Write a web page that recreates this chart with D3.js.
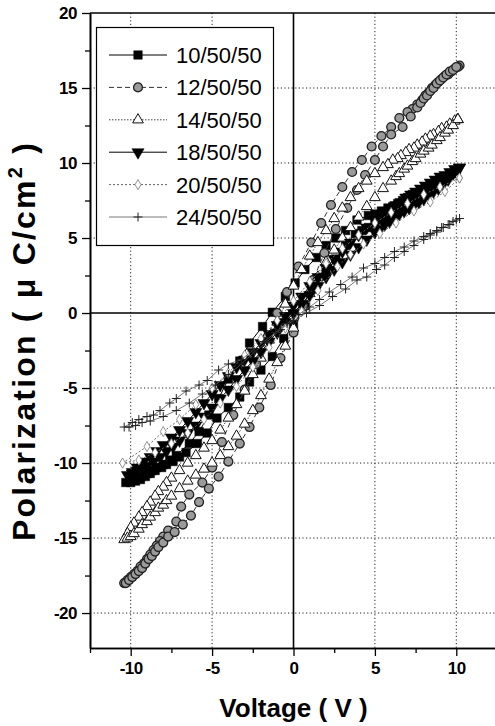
<!DOCTYPE html>
<html>
<head>
<meta charset="utf-8">
<script src="https://cdn.jsdelivr.net/npm/d3@7"></script>
<style>
  body { margin: 0; background: #fff; }
  svg { display: block; }
</style>
</head>
<body>
<div id="chart"></div>
<script>
// Legend labels, in drawing order.
const seriesNames = ['10/50/50', '12/50/50', '14/50/50', '18/50/50', '20/50/50', '24/50/50'];

// Each loop: [voltage (V), polarization (uC/cm2)], descending branch then ascending branch.
const loop10 = [
  [10.0, 9.5], [9.7, 9.3], [9.4, 9.1], [9.1, 8.9], [8.8, 8.7], [8.5, 8.5], [8.2, 8.4], [7.9, 8.2], [7.6, 8.0],
  [7.3, 7.9], [7.0, 7.7], [6.7, 7.5], [6.4, 7.3], [6.1, 7.1], [5.8, 7.0], [5.4, 6.8], [5.0, 6.6], [4.6, 6.5],
  [3.9, 6.2], [3.2, 5.5], [2.6, 5.0], [2.0, 4.5], [1.4, 3.7], [0.7, 2.9], [0.1, 2.0], [-0.5, 1.1], [-1.3, 0.05],
  [-1.9, -0.9], [-2.7, -2.0], [-3.3, -3.2], [-4.0, -4.4], [-4.6, -5.7], [-5.2, -6.8], [-5.8, -7.9], [-6.4, -8.7],
  [-7.2, -9.5], [-7.6, -9.8], [-8.0, -10.1], [-8.4, -10.3], [-8.7, -10.5], [-9.0, -10.7], [-9.4, -10.9],
  [-9.7, -11.0], [-10.0, -11.2], [-10.3, -11.3],
  [-10.0, -11.3], [-9.7, -11.2], [-9.4, -11.1], [-9.1, -10.9], [-8.8, -10.7], [-8.5, -10.5], [-8.1, -10.3],
  [-7.8, -10.1], [-7.4, -9.9], [-7.0, -9.6], [-6.6, -9.3], [-5.9, -8.7], [-5.3, -8.0], [-4.7, -7.0], [-4.0, -6.3],
  [-3.3, -5.6], [-2.7, -4.6], [-2.0, -3.8], [-1.3, -2.9], [-0.6, -1.7], [0.0, -0.8], [0.7, 0.5], [1.3, 1.6],
  [2.0, 2.7], [2.6, 3.6], [3.2, 4.5], [3.8, 5.3], [4.2, 5.5], [4.6, 5.7], [5.0, 6.0], [5.4, 6.2], [5.8, 6.5],
  [6.2, 6.8], [6.6, 7.1], [7.0, 7.4], [7.4, 7.7], [7.8, 8.0], [8.2, 8.3], [8.6, 8.6], [9.0, 8.9], [9.4, 9.1],
  [9.7, 9.3], [10.0, 9.5]
];
const loop12 = [
  [10.2, 16.5], [10.1, 16.4], [9.9, 16.3], [9.7, 16.1], [9.5, 15.9], [9.3, 15.8], [9.1, 15.6], [8.9, 15.4],
  [8.7, 15.2], [8.5, 15.0], [8.3, 14.7], [8.1, 14.5], [7.9, 14.2], [7.6, 13.9], [7.3, 13.6], [7.0, 13.4],
  [6.5, 13.0], [6.0, 12.4], [5.4, 11.8], [4.8, 11.1], [4.2, 10.2], [3.6, 9.4], [3.0, 8.4], [2.3, 7.2], [1.7, 6.0],
  [1.1, 4.7], [0.3, 3.1], [-0.4, 1.4], [-1.0, 0.0], [-1.6, -1.6], [-2.3, -3.4], [-3.0, -5.1], [-3.7, -6.8],
  [-4.4, -8.6], [-5.0, -10.3], [-5.6, -11.3], [-6.4, -12.1], [-6.9, -12.9], [-7.2, -13.9], [-7.7, -14.5],
  [-8.0, -14.9], [-8.2, -15.2], [-8.4, -15.5], [-8.6, -15.8], [-8.8, -16.1], [-9.0, -16.4], [-9.2, -16.7],
  [-9.4, -16.9], [-9.6, -17.2], [-9.8, -17.4], [-10.0, -17.6], [-10.2, -17.8], [-10.4, -18.0],
  [-10.3, -18.0], [-10.1, -17.8], [-9.9, -17.6], [-9.7, -17.4], [-9.5, -17.2], [-9.3, -17.0], [-9.1, -16.7],
  [-8.9, -16.4], [-8.7, -16.2], [-8.5, -15.9], [-8.3, -15.6], [-8.0, -15.3], [-7.7, -14.9], [-7.3, -14.6],
  [-6.8, -14.1], [-6.3, -13.5], [-5.8, -12.6], [-5.2, -11.7], [-4.6, -10.9], [-4.0, -9.9], [-3.3, -8.7],
  [-2.7, -7.6], [-2.1, -6.3], [-1.4, -4.8], [-0.8, -3.0], [0.0, -1.3], [0.6, 0.4], [1.2, 2.2], [1.9, 4.0],
  [2.6, 5.6], [3.3, 7.0], [3.9, 8.2], [4.4, 9.2], [5.0, 10.2], [5.5, 11.1], [6.0, 11.9], [6.7, 12.4], [7.2, 13.1],
  [7.6, 13.7], [7.8, 14.0], [8.0, 14.3], [8.2, 14.5], [8.4, 14.8], [8.6, 15.0], [8.8, 15.3], [9.0, 15.5],
  [9.2, 15.7], [9.4, 15.9], [9.6, 16.1], [9.8, 16.2], [10.0, 16.4]
];
const loop14 = [
  [10.1, 12.9], [9.9, 12.8], [9.6, 12.6], [9.4, 12.4], [9.1, 12.3], [8.9, 12.1], [8.6, 11.9], [8.4, 11.8],
  [8.1, 11.6], [7.9, 11.4], [7.6, 11.2], [7.4, 11.0], [7.1, 10.9], [6.9, 10.7], [6.6, 10.5], [6.4, 10.3],
  [6.1, 10.2], [5.8, 9.9], [5.5, 9.7], [5.0, 9.3], [4.5, 8.8], [4.0, 8.3], [3.5, 7.7], [3.0, 7.0], [2.5, 6.3],
  [2.0, 5.5], [1.5, 4.7], [1.0, 3.8], [0.5, 2.9], [0.0, 1.8], [-0.5, 0.6], [-1.0, -0.6], [-1.5, -1.8], [-2.0, -3.0],
  [-2.5, -4.1], [-3.0, -5.2], [-3.5, -6.1], [-4.0, -7.0], [-4.5, -7.8], [-5.0, -8.5], [-5.5, -9.0], [-6.0, -9.5],
  [-6.5, -10.0], [-7.0, -10.5], [-7.5, -11.0], [-7.8, -11.3], [-8.0, -11.6], [-8.3, -11.9], [-8.5, -12.2],
  [-8.8, -12.6], [-9.0, -12.9], [-9.3, -13.3], [-9.5, -13.6], [-9.8, -14.0], [-10.0, -14.3], [-10.2, -14.7],
  [-10.4, -15.1],
  [-10.2, -15.0], [-10.0, -14.9], [-9.8, -14.7], [-9.5, -14.4], [-9.3, -14.1], [-9.0, -13.9], [-8.8, -13.6],
  [-8.5, -13.3], [-8.3, -13.0], [-8.0, -12.8], [-7.8, -12.5], [-7.5, -12.2], [-7.0, -11.7], [-6.5, -11.2],
  [-6.0, -10.8], [-5.5, -10.4], [-5.0, -10.0], [-4.5, -9.5], [-4.0, -8.9], [-3.5, -8.2], [-3.0, -7.4], [-2.5, -6.5],
  [-2.0, -5.5], [-1.5, -4.4], [-1.0, -3.3], [-0.5, -2.2], [0.0, -1.0], [0.5, 0.2], [1.0, 1.3], [1.5, 2.4],
  [2.0, 3.4], [2.5, 4.2], [3.0, 5.0], [3.5, 5.7], [4.0, 6.4], [4.5, 7.1], [5.0, 7.7], [5.5, 8.3], [6.0, 8.8],
  [6.3, 9.1], [6.5, 9.3], [6.8, 9.6], [7.0, 9.8], [7.3, 10.1], [7.5, 10.3], [7.8, 10.6], [8.0, 10.8], [8.3, 11.0],
  [8.5, 11.2], [8.8, 11.5], [9.0, 11.7], [9.3, 12.0], [9.5, 12.2], [9.8, 12.5], [10.1, 12.9]
];
const loop18 = [
  [10.2, 9.7], [9.9, 9.6], [9.6, 9.4], [9.3, 9.2], [9.0, 9.1], [8.7, 8.9], [8.4, 8.7], [8.1, 8.5], [7.8, 8.3],
  [7.5, 8.1], [7.2, 7.9], [6.9, 7.7], [6.6, 7.4], [6.3, 7.2], [6.0, 7.0], [5.7, 6.7], [5.4, 6.5], [5.0, 6.2],
  [4.5, 5.7], [4.0, 5.2], [3.5, 4.7], [3.0, 4.1], [2.5, 3.6], [2.0, 3.0], [1.5, 2.4], [1.0, 1.8], [0.5, 1.1],
  [0.0, 0.5], [-0.5, -0.2], [-1.0, -0.8], [-1.5, -1.4], [-2.0, -2.0], [-2.5, -2.6], [-3.0, -3.1], [-3.5, -3.6],
  [-4.0, -4.2], [-4.5, -4.8], [-5.0, -5.4], [-5.5, -6.0], [-6.0, -6.6], [-6.5, -7.2], [-7.0, -7.8], [-7.5, -8.3],
  [-8.0, -8.8], [-8.4, -9.2], [-8.8, -9.6], [-9.2, -9.9], [-9.6, -10.3], [-9.9, -10.6], [-10.2, -10.8],
  [-9.9, -10.7], [-9.6, -10.5], [-9.3, -10.3], [-9.0, -10.2], [-8.6, -9.9], [-8.2, -9.6], [-7.8, -9.2],
  [-7.4, -8.9], [-7.0, -8.5], [-6.5, -8.0], [-6.0, -7.5], [-5.5, -6.9], [-5.0, -6.3], [-4.5, -5.7], [-4.0, -5.1],
  [-3.5, -4.4], [-3.0, -3.8], [-2.5, -3.2], [-2.0, -2.6], [-1.5, -1.9], [-1.0, -1.3], [-0.5, -0.6], [0.0, 0.0],
  [0.5, 0.6], [1.0, 1.2], [1.5, 1.8], [2.0, 2.4], [2.5, 2.9], [3.0, 3.4], [3.5, 3.9], [4.0, 4.4], [4.5, 4.9],
  [5.0, 5.4], [5.3, 5.6], [5.6, 5.9], [5.9, 6.1], [6.2, 6.4], [6.5, 6.6], [6.8, 6.8], [7.1, 7.0], [7.4, 7.2],
  [7.7, 7.4], [8.0, 7.6], [8.3, 7.9], [8.6, 8.1], [8.9, 8.3], [9.2, 8.6], [9.5, 8.9], [9.8, 9.3], [10.2, 9.7]
];
const loop20 = [
  [10.2, 9.0], [9.0, 8.4], [8.0, 7.9], [7.0, 7.3], [6.0, 6.7], [5.0, 6.0], [4.0, 5.2], [3.0, 4.3], [2.0, 3.3],
  [1.0, 2.1], [0.0, 0.8], [-1.0, -0.5], [-2.0, -1.7], [-3.0, -2.8], [-4.0, -4.0], [-5.0, -5.0], [-6.0, -6.1],
  [-7.0, -7.1], [-8.0, -7.9], [-9.0, -8.9], [-10.5, -10.0],
  [-9.5, -9.8], [-8.5, -9.3], [-7.5, -8.7], [-6.5, -8.0], [-5.5, -7.1], [-4.5, -6.0], [-3.5, -4.9], [-2.5, -3.6],
  [-1.5, -2.3], [-0.5, -1.0], [0.5, 0.1], [1.5, 1.5], [2.7, 3.1], [3.5, 3.9], [4.3, 4.6], [5.3, 5.3], [6.3, 6.0],
  [7.4, 6.8], [8.4, 7.4], [9.3, 8.1], [10.2, 9.0]
];
const loop24 = [
  [10.2, 6.3], [9.8, 6.1], [9.5, 5.9], [9.1, 5.7], [8.8, 5.5], [8.4, 5.3], [8.0, 5.1], [7.4, 4.8], [6.8, 4.4],
  [6.2, 4.1], [5.6, 3.7], [5.0, 3.3], [4.3, 3.0], [3.6, 2.4], [2.9, 1.9], [2.2, 1.4], [1.6, 0.9], [1.0, 0.4],
  [0.3, -0.1], [-0.4, -0.7], [-1.1, -1.3], [-1.8, -1.9], [-2.5, -2.5], [-3.2, -3.1], [-4.0, -3.4], [-4.6, -3.8],
  [-5.3, -4.5], [-5.8, -4.8], [-6.6, -5.2], [-7.2, -5.7], [-7.6, -6.0], [-8.2, -6.5], [-8.6, -6.8], [-9.0, -6.9],
  [-9.5, -7.1], [-9.9, -7.3], [-10.4, -7.6],
  [-10.1, -7.6], [-9.7, -7.5], [-9.3, -7.3], [-8.8, -7.2], [-8.0, -6.9], [-7.2, -6.5], [-6.4, -6.0], [-5.6, -5.4],
  [-4.8, -4.8], [-4.0, -4.1], [-3.2, -3.4], [-2.4, -2.6], [-1.6, -1.9], [-0.8, -1.1], [0.0, -0.5], [0.8, 0.0],
  [1.6, 0.5], [2.4, 1.1], [3.2, 1.6], [3.9, 2.2], [4.5, 2.4], [5.1, 2.9], [5.6, 3.2], [6.2, 3.7], [6.8, 4.1],
  [7.4, 4.5], [8.0, 4.9], [8.4, 5.2], [8.8, 5.4], [9.2, 5.7], [9.6, 5.9], [10.0, 6.2]
];
const loops = [loop10, loop12, loop14, loop18, loop20, loop24];

// Axis ticks.
const xTicks = [-10, -5, 0, 5, 10];
const yTicks = [20, 15, 10, 5, 0, -5, -10, -15, -20];
const xMinorTicks = [-12.5, -7.5, -2.5, 2.5, 7.5, 12.5];
const yMinorTicks = [17.5, 12.5, 7.5, 2.5, -2.5, -7.5, -12.5, -17.5];

const W = 495, H = 726;
const margin = {top: 13, left: 90, bottom: 78, right: -2};
const width = W - margin.left - margin.right;
const height = H - margin.top - margin.bottom;

const svg = d3.select('#chart').append('svg')
  .attr('width', W).attr('height', H)
  .attr('viewBox', `0 0 ${W} ${H}`);
const g = svg.append('g').attr('transform', `translate(${margin.left},${margin.top})`);

const x = d3.scaleLinear().domain([-12.5, 12.5]).range([0, width]);
const y = d3.scaleLinear().domain([-22.33, 20]).range([height, 0]);

// Dotted grid.
g.append('g').selectAll('line').data(xTicks.filter(d => d !== 0)).join('line')
  .attr('x1', d => x(d)).attr('x2', d => x(d)).attr('y1', 0).attr('y2', height)
  .attr('stroke', '#222').attr('stroke-width', 1).attr('stroke-dasharray', '1.2,2.4');
g.append('g').selectAll('line').data(yTicks.filter(d => d !== 0 && d !== 20)).join('line')
  .attr('x1', 0).attr('x2', width).attr('y1', d => y(d)).attr('y2', d => y(d))
  .attr('stroke', '#222').attr('stroke-width', 1).attr('stroke-dasharray', '1.2,2.4');

// Zero lines.
g.append('line').attr('x1', x(0)).attr('x2', x(0)).attr('y1', 0).attr('y2', height)
  .attr('stroke', '#000').attr('stroke-width', 1.6);
g.append('line').attr('x1', 0).attr('x2', width).attr('y1', y(0)).attr('y2', y(0))
  .attr('stroke', '#000').attr('stroke-width', 1.6);

// Marker shapes.
const plusPath = 'M-4.5,0H4.5M0,-4.5V4.5';
const markers = [
  {d: d3.symbol(d3.symbolSquare, 72)(), fill: '#000', stroke: '#000', sw: 0.5},
  {d: d3.symbol(d3.symbolCircle, 62)(), fill: '#9a9a9a', stroke: '#222', sw: 1.3},
  {d: d3.symbol(d3.symbolTriangle, 50)(), fill: '#fff', stroke: '#111', sw: 1},
  {d: d3.symbol(d3.symbolTriangle, 64)(), fill: '#000', stroke: '#000', sw: 0.5, rot: 180},
  {d: d3.symbol(d3.symbolDiamond, 30)(), fill: '#fff', stroke: '#777', sw: 0.8},
  {d: plusPath, fill: 'none', stroke: '#222', sw: 1}
];
const lineStyles = [
  {stroke: '#000', sw: 1, dash: null},
  {stroke: '#333', sw: 1, dash: '5,3'},
  {stroke: '#444', sw: 1, dash: '1.5,1.5'},
  {stroke: '#000', sw: 1, dash: null},
  {stroke: '#666', sw: 1, dash: '2,2'},
  {stroke: '#555', sw: 0.8, dash: null}
];

const line = d3.line().x(d => x(d[0])).y(d => y(d[1]));

loops.forEach((data, i) => {
  const ls = lineStyles[i], mk = markers[i];
  g.append('path').datum(data)
    .attr('d', line).attr('fill', 'none')
    .attr('stroke', ls.stroke).attr('stroke-width', ls.sw)
    .attr('stroke-dasharray', ls.dash);
  g.append('g').selectAll('path').data(data).join('path')
    .attr('d', mk.d)
    .attr('transform', d => `translate(${x(d[0])},${y(d[1])})` + (mk.rot ? ` rotate(${mk.rot})` : ''))
    .attr('fill', mk.fill).attr('stroke', mk.stroke).attr('stroke-width', mk.sw);
});

// Frame top.
g.append('line').attr('x1', 0).attr('x2', width).attr('y1', 0).attr('y2', 0)
  .attr('stroke', '#000').attr('stroke-width', 1.6);

const axisFont = 'Liberation Sans, Arial, Helvetica, sans-serif';
const fmt = d => String(d);

const xAxis = g.append('g').attr('transform', `translate(0,${height})`)
  .call(d3.axisBottom(x).tickValues(xTicks).tickFormat(fmt).tickSize(8).tickSizeOuter(0).tickPadding(6));
g.append('g').attr('transform', `translate(0,${height})`)
  .call(d3.axisBottom(x).tickValues(xMinorTicks).tickSize(5).tickSizeOuter(0).tickFormat(''));
const yAxis = g.append('g')
  .call(d3.axisLeft(y).tickValues(yTicks).tickFormat(fmt).tickSize(8).tickSizeOuter(0).tickPadding(5));
g.append('g')
  .call(d3.axisLeft(y).tickValues(yMinorTicks).tickSize(5).tickSizeOuter(0).tickFormat(''));

g.selectAll('.domain').attr('stroke', '#000').attr('stroke-width', 1.6);
g.selectAll('.tick line').attr('stroke', '#000').attr('stroke-width', 1.3);
[xAxis, yAxis].forEach(a => a.selectAll('text')
  .attr('font-family', axisFont).attr('font-weight', 'bold').attr('font-size', 17)
  .attr('letter-spacing', -0.5).attr('fill', '#000'));

// Axis titles.
svg.append('text')
  .attr('x', margin.left + x(0)).attr('y', 717)
  .attr('text-anchor', 'middle')
  .attr('font-family', axisFont).attr('font-weight', 'bold').attr('font-size', 26)
  .text('Voltage ( V )');

const yTitle = svg.append('text')
  .attr('transform', `translate(35,341) rotate(-90)`)
  .attr('text-anchor', 'middle')
  .attr('font-family', axisFont).attr('font-weight', 'bold').attr('font-size', 32)
  .attr('letter-spacing', 2.2);
yTitle.append('tspan').text('Polarization ( μ C/cm');
yTitle.append('tspan').attr('font-size', 20).attr('dy', -13).text('2');
yTitle.append('tspan').attr('dy', 13).text(' )');

// Legend.
const legend = svg.append('g');
legend.append('rect')
  .attr('x', 96.5).attr('y', 27.5).attr('width', 177).attr('height', 218)
  .attr('fill', '#fff').attr('stroke', '#000').attr('stroke-width', 1.2);
seriesNames.forEach((name, i) => {
  const ly = 55 + i * 32.4;
  const ls = lineStyles[i], mk = markers[i];
  legend.append('line').attr('x1', 109).attr('x2', 167).attr('y1', ly).attr('y2', ly)
    .attr('stroke', ls.stroke).attr('stroke-width', ls.sw).attr('stroke-dasharray', ls.dash);
  legend.append('path').attr('d', mk.d)
    .attr('transform', `translate(138,${ly})` + (mk.rot ? ` rotate(${mk.rot})` : ''))
    .attr('fill', mk.fill).attr('stroke', mk.stroke).attr('stroke-width', mk.sw);
  legend.append('text').attr('x', 176).attr('y', ly + 8)
    .attr('font-family', axisFont).attr('font-size', 22).text(name);
});
</script>
</body>
</html>
